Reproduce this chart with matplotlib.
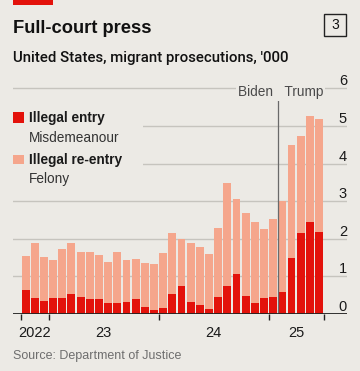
import matplotlib
matplotlib.use("Agg")
import matplotlib.pyplot as plt
from matplotlib.patches import Rectangle
from matplotlib import transforms
import numpy as np

# ---- data ('000 prosecutions, monthly Oct 2022 - Jun 2025) ----
totals = [1.55, 1.88, 1.51, 1.44, 1.73, 1.90, 1.66, 1.65, 1.56, 1.39, 1.64, 1.44,
          1.47, 1.36, 1.34, 1.61, 2.15, 1.99, 1.89, 1.78, 1.60, 2.29, 3.48, 3.05,
          2.69, 2.44, 2.25, 2.53, 3.00, 4.50, 4.73, 5.27, 5.19]
illegal_entry = [0.64, 0.43, 0.34, 0.42, 0.42, 0.52, 0.46, 0.39, 0.39, 0.30, 0.30, 0.32,
                 0.41, 0.18, 0.11, 0.16, 0.52, 0.75, 0.33, 0.23, 0.14, 0.44, 0.75, 1.06,
                 0.47, 0.30, 0.42, 0.45, 0.58, 1.49, 2.16, 2.45, 2.18]
illegal_reentry = [t - e for t, e in zip(totals, illegal_entry)]
year_labels = ["2022", "23", "24", "25"]
year_bounds = [0, 3, 15, 27, 33]
y_ticks = [0, 1, 2, 3, 4, 5, 6]
admin_change = 28

BG = "#ECEAE5"
RED = "#E3120B"
LIGHT = "#F5A68C"
GRID = "#C6C4BE"

plt.rcParams['font.family'] = ['Liberation Sans', 'DejaVu Sans']
MED = ['Roboto', 'Liberation Sans', 'DejaVu Sans']

W, H = 360, 371
fig = plt.figure(figsize=(W / 100, H / 100), dpi=100, facecolor=BG)

def fx(x):
    return x / W

def fy(y):
    return 1 - y / H

# axes: left 13px, right 347px, baseline 314px, top 85px
ax = fig.add_axes([fx(13), fy(314), fx(347) - fx(13), fy(85) - fy(314)])
ax.set_facecolor(BG)
n = len(totals)
x = np.arange(n) + 0.5
unit = 9.17
ax.set_xlim(-(21 - 13) / unit, (347 - 21) / unit)
ax.set_ylim(0, (314 - 85) / 37.6)

for v in y_ticks[1:]:
    ax.axhline(v, color=GRID, lw=1.0, zorder=0)

ax.bar(x, illegal_entry, width=0.86, color=RED, zorder=2, linewidth=0)
ax.bar(x, illegal_reentry, bottom=illegal_entry, width=0.86, color=LIGHT, zorder=2, linewidth=0)

ax.axhline(0, color="#222222", lw=1.3, zorder=4)
ax.axvline(admin_change, color="#6A6A6A", lw=0.9, zorder=3)

for s in ax.spines.values():
    s.set_visible(False)
ax.set_yticks([])
ax.set_xticks(year_bounds)
ax.set_xticklabels([])
ax.tick_params(axis='x', direction='out', length=4.5, width=1.0, color="#222222")

# year labels
for lab, a, b in zip(year_labels, year_bounds[:-1], year_bounds[1:]):
    ax.text((a + b) / 2, 0, lab, ha='center', va='baseline', fontsize=10.5, color="#1a1a1a",
            transform=transforms.offset_copy(ax.transData, fig=fig, x=0, y=-23, units='dots'))

# y labels (right, above gridlines)
for v in y_ticks:
    ax.text(35.1, v, str(v), ha='center', va='baseline', fontsize=10.5, color="#1a1a1a",
            transform=transforms.offset_copy(ax.transData, fig=fig, x=0, y=3, units='dots'), zorder=5)

# Biden | Trump
ax.text(admin_change, 6.0, "Biden ", ha='right', va='center', fontsize=9.8, color="#4A4A4A",
        transform=transforms.offset_copy(ax.transData, fig=fig, x=-1, y=-4, units='dots'),
        bbox=dict(facecolor=BG, edgecolor='none', pad=1.5), zorder=5)
ax.text(admin_change, 6.0, " Trump", ha='left', va='center', fontsize=9.8, color="#4A4A4A",
        transform=transforms.offset_copy(ax.transData, fig=fig, x=3, y=-4, units='dots'),
        bbox=dict(facecolor=BG, edgecolor='none', pad=1.5), zorder=5)

# legend background covering grid
fig.add_artist(Rectangle((fx(12), fy(190)), fx(143) - fx(12), fy(104) - fy(190),
                         transform=fig.transFigure, facecolor=BG, edgecolor='none', zorder=5))
fig.add_artist(Rectangle((fx(13), fy(123)), fx(11), fy(112) - fy(123),
                         transform=fig.transFigure, facecolor=RED, edgecolor='none', zorder=6))
fig.add_artist(Rectangle((fx(13), fy(164)), fx(11), fy(155) - fy(164),
                         transform=fig.transFigure, facecolor=LIGHT, edgecolor='none', zorder=6))
fig.text(fx(29), fy(122), "Illegal entry", fontsize=9.8, fontweight='bold', color="#1a1a1a", va='baseline', zorder=7)
fig.text(fx(29), fy(142), "Misdemeanour", fontsize=9.8, color="#333333", va='baseline', zorder=7)
fig.text(fx(29), fy(164), "Illegal re-entry", fontsize=9.8, fontweight='bold', color="#1a1a1a", va='baseline', zorder=7)
fig.text(fx(29), fy(183), "Felony", fontsize=9.8, color="#333333", va='baseline', zorder=7)

# header
fig.add_artist(Rectangle((fx(13), fy(5)), fx(40), fy(0) - fy(5), transform=fig.transFigure,
                         facecolor=RED, edgecolor='none'))
fig.text(fx(13), fy(33), "Full-court press", fontsize=13.2, fontweight='bold', color="#111111", va='baseline')
fig.text(fx(13), fy(62), "United States, migrant prosecutions, '000", fontsize=10.8, fontweight=500,
         family=MED, color="#111111", va='baseline')
fig.add_artist(Rectangle((fx(324), fy(36)), fx(22), fy(14) - fy(36), transform=fig.transFigure,
                         facecolor='none', edgecolor="#222222", lw=1.0))
fig.text(fx(335), fy(25), "3", fontsize=10, color="#111111", ha='center', va='center')

fig.text(fx(13), fy(359), "Source: Department of Justice", fontsize=9, color="#6E6E6E", va='baseline')

fig.savefig("out.png", dpi=100, facecolor=BG)
